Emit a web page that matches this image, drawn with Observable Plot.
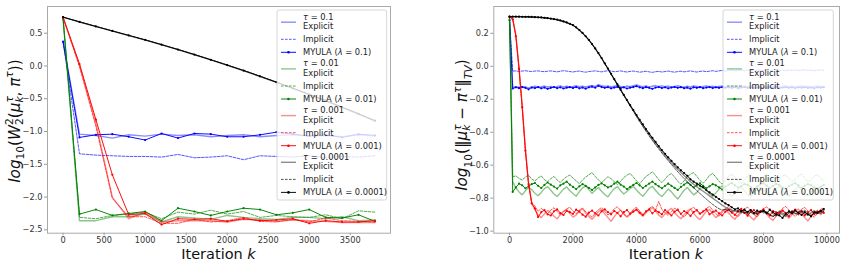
<!DOCTYPE html>
<html><head><meta charset="utf-8">
<script src="https://cdn.jsdelivr.net/npm/d3@7"></script>
<script src="https://cdn.jsdelivr.net/npm/@observablehq/plot@0.6"></script>
<style>
body{margin:0;background:#fff;}
#fig{position:relative;width:844px;height:262px;font-family:"DejaVu Sans",sans-serif;}
#fig > div{position:absolute;top:0;}
#w2{left:0;} #tv{left:420px;}
svg{overflow:visible;}
</style></head><body>
<div id="fig"><div id="w2"></div><div id="tv"></div></div>
<script>
// Step sizes and colours for each tau / lambda
const taus = ["0.1", "0.01", "0.001", "0.0001"];
const colors = ["blue", "green", "red", "black"];

// ---------- Wasserstein panel (every 200 iterations) ----------
const w2Iter = [0,200,400,600,800,1000,1200,1400,1600,1800,2000,2200,2400,2600,2800,3000,3200,3400,3600,3800];
const w2XTicks = [0,500,1000,1500,2000,2500,3000,3500];
const w2YTicks = [0.5,0,-0.5,-1,-1.5,-2,-2.5];

const w2Exp1 = [0.37,-1.04,-1.06,-1.10,-1.05,-1.07,-1.04,-1.06,-1.05,-1.08,-1.06,-1.05,-1.08,-1.06,-1.05,-1.07,-1.06,-1.08,-1.05,-1.07];
const w2Imp1 = [0.37,-1.34,-1.36,-1.37,-1.38,-1.38,-1.39,-1.35,-1.40,-1.39,-1.37,-1.43,-1.37,-1.38,-1.39,-1.37,-1.40,-1.38,-1.39,-1.37];
const w2My1  = [0.37,-1.09,-1.05,-1.04,-1.08,-1.13,-1.03,-1.10,-1.03,-1.04,-1.08,-1.08,-1.05,-1.01,-1.04,-1.07,-1.05,-1.09,-1.04,-1.06];

const w2Exp2 = [0.72,-2.36,-2.36,-2.30,-2.30,-2.26,-2.38,-2.30,-2.32,-2.34,-2.28,-2.31,-2.33,-2.34,-2.31,-2.31,-2.33,-2.30,-2.36,-2.35];
const w2Imp2 = [0.72,-2.31,-2.33,-2.28,-2.26,-2.23,-2.33,-2.23,-2.26,-2.20,-2.26,-2.22,-2.31,-2.28,-2.30,-2.31,-2.27,-2.33,-2.21,-2.23];
const w2My2  = [0.72,-2.26,-2.19,-2.28,-2.25,-2.22,-2.36,-2.17,-2.22,-2.28,-2.22,-2.17,-2.19,-2.27,-2.24,-2.19,-2.31,-2.32,-2.27,-2.37];

const w2Exp3 = [0.74,0.01,-0.88,-2.00,-2.33,-2.23,-2.38,-2.36,-2.36,-2.36,-2.38,-2.34,-2.35,-2.37,-2.35,-2.36,-2.37,-2.39,-2.39,-2.39];
const w2Imp3 = [0.74,-0.01,-0.92,-2.02,-2.30,-2.30,-2.40,-2.40,-2.34,-2.38,-2.36,-2.31,-2.37,-2.38,-2.34,-2.38,-2.32,-2.36,-2.37,-2.38];
const w2My3  = [0.74,0.03,-0.82,-1.66,-2.27,-2.25,-2.42,-2.33,-2.34,-2.33,-2.37,-2.33,-2.36,-2.35,-2.33,-2.40,-2.36,-2.38,-2.38,-2.36];

const w2Exp4 = [0.745,0.670,0.600,0.532,0.463,0.395,0.322,0.248,0.171,0.092,0.010,-0.073,-0.161,-0.251,-0.343,-0.438,-0.534,-0.634,-0.735,-0.840];
const w2Imp4 = [0.745,0.674,0.605,0.536,0.468,0.400,0.328,0.253,0.176,0.097,0.016,-0.067,-0.155,-0.245,-0.337,-0.432,-0.527,-0.627,-0.727,-0.830];
const w2My4  = [0.745,0.672,0.603,0.534,0.466,0.398,0.325,0.250,0.174,0.094,0.013,-0.070,-0.158,-0.248,-0.340,-0.435,-0.530,-0.630,-0.730,-0.835];

// ---------- Total variation panel (every 100 iterations) ----------
const tvIter = [
0,100,200,300,400,500,600,700,800,900,
1000,1100,1200,1300,1400,1500,1600,1700,1800,1900,
2000,2100,2200,2300,2400,2500,2600,2700,2800,2900,
3000,3100,3200,3300,3400,3500,3600,3700,3800,3900,
4000,4100,4200,4300,4400,4500,4600,4700,4800,4900,
5000,5100,5200,5300,5400,5500,5600,5700,5800,5900,
6000,6100,6200,6300,6400,6500,6600,6700,6800,6900,
7000,7100,7200,7300,7400,7500,7600,7700,7800,7900,
8000,8100,8200,8300,8400,8500,8600,8700,8800,8900,
9000,9100,9200,9300,9400,9500,9600,9700,9800,9900];
const tvXTicks = [0,2000,4000,6000,8000,10000];
const tvYTicks = [0.2,0,-0.2,-0.4,-0.6,-0.8,-1.0];

const tvExp1 = [
0.28,-0.128,-0.124,-0.127,-0.122,-0.126,-0.131,-0.125,-0.121,-0.127,
-0.124,-0.120,-0.126,-0.123,-0.128,-0.122,-0.119,-0.125,-0.121,-0.126,
-0.123,-0.118,-0.124,-0.121,-0.126,-0.120,-0.117,-0.122,-0.112,-0.118,
-0.123,-0.119,-0.125,-0.121,-0.116,-0.122,-0.126,-0.120,-0.124,-0.118,
-0.113,-0.119,-0.124,-0.120,-0.125,-0.121,-0.117,-0.123,-0.119,-0.124,
-0.120,-0.126,-0.122,-0.118,-0.124,-0.127,-0.121,-0.125,-0.120,-0.123,
-0.126,-0.122,-0.119,-0.124,-0.121,-0.126,-0.123,-0.120,-0.125,-0.121,
-0.124,-0.120,-0.126,-0.122,-0.119,-0.124,-0.121,-0.125,-0.122,-0.120,
-0.123,-0.126,-0.121,-0.124,-0.120,-0.125,-0.122,-0.119,-0.124,-0.121,
-0.125,-0.122,-0.120,-0.124,-0.121,-0.126,-0.123,-0.120,-0.124,-0.122];
const tvImp1 = [
0.28,-0.030,-0.028,-0.031,-0.029,-0.027,-0.030,-0.032,-0.029,-0.028,
-0.031,-0.033,-0.030,-0.028,-0.031,-0.034,-0.030,-0.027,-0.029,-0.032,
-0.035,-0.031,-0.029,-0.033,-0.036,-0.032,-0.030,-0.028,-0.031,-0.034,
-0.030,-0.027,-0.029,-0.033,-0.031,-0.028,-0.032,-0.035,-0.031,-0.029,
-0.032,-0.036,-0.033,-0.030,-0.034,-0.037,-0.033,-0.031,-0.035,-0.032,
-0.029,-0.033,-0.036,-0.032,-0.030,-0.034,-0.031,-0.028,-0.032,-0.035,
-0.031,-0.029,-0.033,-0.030,-0.027,-0.031,-0.028,-0.025,-0.029,-0.026,
-0.024,-0.028,-0.025,-0.023,-0.027,-0.024,-0.026,-0.029,-0.025,-0.023,
-0.026,-0.024,-0.028,-0.025,-0.022,-0.026,-0.024,-0.027,-0.023,-0.025,
-0.022,-0.026,-0.024,-0.021,-0.025,-0.023,-0.027,-0.024,-0.022,-0.025];
const tvMy1 = [
0.28,-0.135,-0.128,-0.133,-0.126,-0.131,-0.140,-0.129,-0.132,-0.127,
-0.134,-0.129,-0.137,-0.131,-0.126,-0.133,-0.128,-0.135,-0.130,-0.127,
-0.132,-0.126,-0.134,-0.129,-0.136,-0.128,-0.124,-0.130,-0.119,-0.126,
-0.131,-0.127,-0.134,-0.129,-0.125,-0.132,-0.128,-0.135,-0.130,-0.126,
-0.121,-0.128,-0.133,-0.127,-0.131,-0.137,-0.129,-0.126,-0.132,-0.128,
-0.134,-0.129,-0.126,-0.131,-0.127,-0.133,-0.130,-0.136,-0.128,-0.131,
-0.127,-0.133,-0.129,-0.126,-0.132,-0.128,-0.131,-0.127,-0.130,-0.128,
-0.131,-0.127,-0.133,-0.129,-0.126,-0.131,-0.128,-0.132,-0.129,-0.127,
-0.130,-0.133,-0.128,-0.131,-0.127,-0.132,-0.129,-0.126,-0.131,-0.128,
-0.132,-0.128,-0.130,-0.127,-0.131,-0.129,-0.133,-0.128,-0.130,-0.127];

const tvExp2 = [
0.30,-0.700,-0.738,-0.762,-0.780,-0.755,-0.735,-0.748,-0.770,-0.785,
-0.765,-0.742,-0.730,-0.752,-0.775,-0.790,-0.768,-0.745,-0.732,-0.755,
-0.772,-0.788,-0.760,-0.738,-0.725,-0.748,-0.770,-0.752,-0.735,-0.758,
-0.778,-0.792,-0.765,-0.742,-0.730,-0.755,-0.775,-0.760,-0.742,-0.728,
-0.750,-0.772,-0.788,-0.765,-0.740,-0.728,-0.752,-0.775,-0.790,-0.768,
-0.745,-0.762,-0.785,-0.805,-0.778,-0.752,-0.735,-0.758,-0.780,-0.765,
-0.742,-0.728,-0.750,-0.772,-0.790,-0.768,-0.745,-0.725,-0.748,-0.770,
-0.790,-0.772,-0.748,-0.732,-0.755,-0.778,-0.792,-0.766,-0.744,-0.730,
-0.752,-0.774,-0.789,-0.767,-0.743,-0.729,-0.751,-0.776,-0.790,-0.765,
-0.746,-0.731,-0.754,-0.777,-0.788,-0.764,-0.742,-0.733,-0.756,-0.775];
const tvImp2 = [
0.30,-0.670,-0.665,-0.680,-0.690,-0.672,-0.660,-0.685,-0.695,-0.678,
-0.665,-0.688,-0.700,-0.682,-0.668,-0.690,-0.705,-0.685,-0.670,-0.660,
-0.678,-0.695,-0.712,-0.690,-0.672,-0.658,-0.645,-0.668,-0.690,-0.705,
-0.688,-0.670,-0.682,-0.700,-0.718,-0.698,-0.675,-0.660,-0.650,-0.672,
-0.695,-0.712,-0.690,-0.668,-0.655,-0.640,-0.662,-0.688,-0.705,-0.685,
-0.662,-0.650,-0.672,-0.698,-0.715,-0.695,-0.670,-0.655,-0.645,-0.668,
-0.692,-0.710,-0.688,-0.662,-0.650,-0.672,-0.698,-0.715,-0.690,-0.668,
-0.652,-0.675,-0.700,-0.712,-0.688,-0.665,-0.655,-0.678,-0.702,-0.690,
-0.668,-0.655,-0.676,-0.698,-0.710,-0.686,-0.664,-0.658,-0.680,-0.700,
-0.688,-0.666,-0.654,-0.677,-0.701,-0.689,-0.667,-0.656,-0.679,-0.695];
const tvMy2 = [
0.30,-0.762,-0.735,-0.712,-0.722,-0.740,-0.728,-0.715,-0.708,-0.725,
-0.738,-0.720,-0.705,-0.718,-0.730,-0.742,-0.722,-0.712,-0.700,-0.718,
-0.732,-0.745,-0.728,-0.715,-0.725,-0.738,-0.750,-0.735,-0.720,-0.710,
-0.722,-0.735,-0.728,-0.712,-0.700,-0.718,-0.730,-0.745,-0.732,-0.720,
-0.708,-0.722,-0.738,-0.725,-0.712,-0.700,-0.715,-0.728,-0.740,-0.725,
-0.712,-0.725,-0.738,-0.750,-0.732,-0.718,-0.705,-0.720,-0.735,-0.722,
-0.710,-0.725,-0.740,-0.728,-0.715,-0.722,-0.735,-0.748,-0.730,-0.718,
-0.708,-0.722,-0.736,-0.727,-0.714,-0.720,-0.733,-0.745,-0.729,-0.716,
-0.710,-0.724,-0.738,-0.726,-0.713,-0.721,-0.734,-0.744,-0.728,-0.717,
-0.709,-0.723,-0.737,-0.725,-0.715,-0.722,-0.735,-0.743,-0.730,-0.719];

const tvExp3 = [
0.301,0.290,0.190,-0.010,-0.240,-0.500,-0.710,-0.830,-0.870,-0.900,
-0.918,-0.895,-0.875,-0.888,-0.910,-0.925,-0.900,-0.880,-0.868,-0.892,
-0.915,-0.902,-0.878,-0.865,-0.890,-0.912,-0.928,-0.905,-0.882,-0.870,
-0.895,-0.918,-0.940,-0.912,-0.888,-0.872,-0.895,-0.915,-0.900,-0.878,
-0.868,-0.892,-0.910,-0.888,-0.870,-0.858,-0.880,-0.902,-0.918,-0.895,
-0.875,-0.862,-0.888,-0.908,-0.925,-0.900,-0.878,-0.865,-0.892,-0.915,
-0.930,-0.905,-0.880,-0.868,-0.895,-0.918,-0.900,-0.878,-0.865,-0.890,
-0.912,-0.928,-0.902,-0.880,-0.868,-0.894,-0.916,-0.932,-0.905,-0.882,
-0.870,-0.896,-0.920,-0.935,-0.908,-0.884,-0.872,-0.898,-0.922,-0.900,
-0.878,-0.866,-0.892,-0.918,-0.938,-0.910,-0.886,-0.874,-0.900,-0.880];
const tvImp3 = [
0.301,0.288,0.186,-0.014,-0.245,-0.505,-0.712,-0.828,-0.848,-0.880,
-0.862,-0.878,-0.895,-0.872,-0.858,-0.880,-0.902,-0.885,-0.865,-0.855,
-0.878,-0.895,-0.872,-0.860,-0.882,-0.900,-0.915,-0.890,-0.870,-0.858,
-0.880,-0.902,-0.888,-0.865,-0.852,-0.875,-0.898,-0.912,-0.890,-0.868,
-0.855,-0.878,-0.900,-0.885,-0.862,-0.850,-0.872,-0.820,-0.868,-0.890,
-0.905,-0.882,-0.860,-0.875,-0.898,-0.915,-0.892,-0.868,-0.855,-0.878,
-0.900,-0.885,-0.862,-0.850,-0.872,-0.895,-0.910,-0.888,-0.865,-0.852,
-0.875,-0.898,-0.912,-0.890,-0.866,-0.854,-0.876,-0.900,-0.914,-0.888,
-0.864,-0.852,-0.874,-0.896,-0.910,-0.886,-0.862,-0.850,-0.872,-0.894,
-0.912,-0.890,-0.866,-0.856,-0.878,-0.900,-0.916,-0.892,-0.868,-0.858];
const tvMy3 = [
0.301,0.285,0.182,-0.016,-0.248,-0.512,-0.715,-0.832,-0.862,-0.915,
-0.885,-0.872,-0.898,-0.905,-0.880,-0.868,-0.890,-0.902,-0.878,-0.885,
-0.895,-0.870,-0.882,-0.900,-0.912,-0.888,-0.875,-0.892,-0.905,-0.880,
-0.868,-0.885,-0.898,-0.878,-0.890,-0.910,-0.885,-0.872,-0.895,-0.882,
-0.870,-0.888,-0.902,-0.880,-0.868,-0.892,-0.875,-0.885,-0.898,-0.872,
-0.888,-0.905,-0.882,-0.870,-0.895,-0.878,-0.890,-0.908,-0.885,-0.872,
-0.893,-0.880,-0.868,-0.898,-0.885,-0.875,-0.892,-0.905,-0.882,-0.870,
-0.888,-0.902,-0.878,-0.865,-0.890,-0.906,-0.884,-0.872,-0.895,-0.880,
-0.868,-0.892,-0.905,-0.878,-0.886,-0.898,-0.875,-0.889,-0.910,-0.882,
-0.870,-0.895,-0.880,-0.905,-0.885,-0.872,-0.898,-0.884,-0.876,-0.890];

const tvExp4 = [
0.301,0.301,0.301,0.301,0.301,0.300,0.300,0.299,0.298,0.297,
0.296,0.294,0.292,0.289,0.286,0.282,0.277,0.272,0.265,0.257,
0.249,0.235,0.219,0.201,0.181,0.159,0.134,0.107,0.079,0.049,
0.017,-0.015,-0.047,-0.079,-0.111,-0.143,-0.175,-0.206,-0.237,-0.268,
-0.298,-0.328,-0.357,-0.386,-0.414,-0.441,-0.467,-0.492,-0.516,-0.540,
-0.563,-0.585,-0.606,-0.626,-0.645,-0.663,-0.680,-0.700,-0.716,-0.731,
-0.745,-0.758,-0.772,-0.786,-0.800,-0.814,-0.828,-0.842,-0.855,-0.866,
-0.872,-0.880,-0.876,-0.889,-0.882,-0.895,-0.884,-0.898,-0.888,-0.878,
-0.890,-0.882,-0.898,-0.910,-0.892,-0.885,-0.900,-0.912,-0.890,-0.882,
-0.896,-0.884,-0.875,-0.892,-0.904,-0.888,-0.876,-0.894,-0.886,-0.872];
const tvImp4 = [
0.301,0.301,0.301,0.300,0.300,0.300,0.299,0.299,0.298,0.296,
0.295,0.293,0.291,0.288,0.285,0.281,0.276,0.270,0.264,0.256,
0.248,0.234,0.218,0.200,0.180,0.158,0.133,0.106,0.078,0.048,
0.016,-0.016,-0.048,-0.080,-0.112,-0.145,-0.177,-0.209,-0.241,-0.273,
-0.305,-0.336,-0.366,-0.395,-0.423,-0.450,-0.476,-0.501,-0.526,-0.550,
-0.573,-0.596,-0.618,-0.640,-0.661,-0.681,-0.700,-0.718,-0.736,-0.754,
-0.772,-0.789,-0.806,-0.822,-0.838,-0.852,-0.864,-0.872,-0.868,-0.876,
-0.882,-0.872,-0.886,-0.878,-0.892,-0.880,-0.870,-0.888,-0.898,-0.884,
-0.872,-0.886,-0.899,-0.915,-0.894,-0.878,-0.890,-0.905,-0.888,-0.876,
-0.890,-0.902,-0.884,-0.872,-0.894,-0.906,-0.889,-0.878,-0.892,-0.880];
const tvMy4 = [
0.301,0.301,0.301,0.301,0.300,0.300,0.300,0.299,0.298,0.297,
0.296,0.294,0.292,0.289,0.286,0.283,0.278,0.272,0.266,0.258,
0.250,0.236,0.220,0.202,0.182,0.160,0.135,0.108,0.080,0.050,
0.018,-0.014,-0.046,-0.078,-0.110,-0.142,-0.174,-0.205,-0.236,-0.266,
-0.296,-0.325,-0.353,-0.381,-0.408,-0.434,-0.459,-0.484,-0.508,-0.531,
-0.553,-0.574,-0.594,-0.613,-0.631,-0.648,-0.664,-0.686,-0.700,-0.712,
-0.724,-0.735,-0.752,-0.765,-0.778,-0.792,-0.805,-0.818,-0.832,-0.842,
-0.855,-0.868,-0.862,-0.878,-0.870,-0.885,-0.872,-0.890,-0.876,-0.884,
-0.878,-0.892,-0.870,-0.886,-0.900,-0.905,-0.920,-0.895,-0.880,-0.892,
-0.875,-0.888,-0.902,-0.885,-0.898,-0.910,-0.886,-0.890,-0.878,-0.866];

// ---------- drawing ----------
const lineStyles = {
  Explicit: {w: 1.4, o: 0.45, dash: null},
  Implicit: {w: 0.9, o: 0.75, dash: "2.6,1.4"},
  MYULA:    {w: 1.0, o: 0.95, dash: null}
};
const tickSize = "8.2px";
const labelSize = 14.5;

function seriesList(exp, imp, my) {
  const out = [];
  colors.forEach((c, j) => {
    out.push({color: c, method: "Explicit", values: exp[j]});
    out.push({color: c, method: "Implicit", values: imp[j]});
    out.push({color: c, method: "MYULA", values: my[j]});
  });
  return out;
}

function drawPanel(el, cfg) {
  const marks = [];
  cfg.series.forEach(s => {
    const data = cfg.iter.map((x, i) => ({x, y: s.values[i]}));
    const st = lineStyles[s.method];
    marks.push(Plot.line(data, {x: "x", y: "y", stroke: s.color, strokeWidth: st.w,
      strokeOpacity: st.o, strokeDasharray: st.dash}));
    if (s.method === "MYULA") marks.push(Plot.dot(data, {x: "x", y: "y", r: 1.1, fill: s.color, stroke: "none"}));
  });
  const chart = Plot.plot({
    width: cfg.width, height: 262,
    marginLeft: cfg.ml, marginRight: cfg.mr, marginTop: 6, marginBottom: 29.3,
    style: {fontFamily: "DejaVu Sans", fontSize: tickSize, color: "#333", background: "transparent"},
    x: {domain: cfg.xDomain},
    y: {domain: cfg.yDomain},
    marks: [
      ...marks,
      Plot.axisX({ticks: cfg.xTicks, tickFormat: d => String(d), tickSize: 2.5, tickPadding: 1.5, label: null, stroke: "#999"}),
      Plot.axisY({ticks: cfg.yTicks, tickFormat: d3.format(".1f"), tickSize: 3, tickPadding: 2, label: null, stroke: "#999"}),
      Plot.frame({stroke: "#aaa"})
    ]
  });
  el.appendChild(chart);
  return d3.select(chart);
}

// math-style text built from tspans (italic symbols, sub/superscripts)
function mathText(parent, tokens, size) {
  const t = parent.append("text").attr("font-size", size).attr("fill", "#111")
    .attr("font-family", "DejaVu Sans").attr("text-anchor", "middle");
  let cur = 0, lastW = 0;
  tokens.forEach(tok => {
    const fs = tok.s ? size * 0.7 : size;
    const off = tok.s === "sup" ? -0.42 * size : tok.s === "sub" ? (tok.low ? 0.3 : 0.2) * size : 0;
    const ts = t.append("tspan").attr("font-size", fs).attr("dy", off - cur).text(tok.t);
    if (tok.i) ts.attr("font-style", "italic");
    if (tok.back) ts.attr("dx", -lastW);
    cur = off;
    lastW = ts.node().getComputedTextLength();
  });
  return t;
}

function axisLabels(svg, cx, yLabelX, yLabelY, tokens) {
  const xl = svg.append("text").attr("x", cx).attr("y", 259).attr("text-anchor", "middle")
    .attr("font-size", labelSize).attr("font-family", "DejaVu Sans").attr("fill", "#111");
  xl.append("tspan").text("Iteration ");
  xl.append("tspan").attr("font-style", "italic").text("k");
  const g = svg.append("g").attr("transform", `translate(${yLabelX},${yLabelY}) rotate(-90)`);
  mathText(g, tokens, 15.2).attr("y", 5.5);
}

function drawLegend(svg, x0, y0, w, h) {
  const fs = 8.3;
  const g = svg.append("g").attr("font-family", "DejaVu Sans").attr("font-size", fs)
    .attr("fill", "#222").attr("text-anchor", "start");
  g.append("rect").attr("x", x0).attr("y", y0).attr("width", w).attr("height", h).attr("rx", 2)
    .attr("fill", "white").attr("fill-opacity", 0.8).attr("stroke", "#ccc").attr("stroke-width", 0.8);
  const lx0 = x0 + 4, lx1 = x0 + 19, tx = x0 + 26;
  taus.forEach((tau, j) => {
    const c = colors[j];
    const base = y0 + 6.7 + 46.7 * j;
    const t1 = g.append("text").attr("x", tx).attr("y", base).attr("dy", "0.35em");
    t1.append("tspan").attr("font-style", "italic").text("τ");
    t1.append("tspan").text(" = " + tau);
    g.append("text").attr("x", tx).attr("y", base + 9.6).attr("dy", "0.35em").text("Explicit");
    g.append("line").attr("x1", lx0).attr("x2", lx1).attr("y1", base + 5.5).attr("y2", base + 5.5)
      .attr("stroke", c).attr("stroke-width", lineStyles.Explicit.w).attr("stroke-opacity", lineStyles.Explicit.o);
    g.append("text").attr("x", tx).attr("y", base + 22.6).attr("dy", "0.35em").text("Implicit");
    g.append("line").attr("x1", lx0).attr("x2", lx1).attr("y1", base + 22.6).attr("y2", base + 22.6)
      .attr("stroke", c).attr("stroke-width", lineStyles.Implicit.w).attr("stroke-opacity", lineStyles.Implicit.o)
      .attr("stroke-dasharray", lineStyles.Implicit.dash);
    const t3 = g.append("text").attr("x", tx).attr("y", base + 35.6).attr("dy", "0.35em");
    t3.append("tspan").text("MYULA (");
    t3.append("tspan").attr("font-style", "italic").text("λ");
    t3.append("tspan").text(" = " + tau + ")");
    g.append("line").attr("x1", lx0).attr("x2", lx1).attr("y1", base + 35.6).attr("y2", base + 35.6)
      .attr("stroke", c).attr("stroke-width", 1).attr("stroke-opacity", lineStyles.MYULA.o);
    g.append("circle").attr("cx", (lx0 + lx1) / 2).attr("cy", base + 35.6).attr("r", 1.3).attr("fill", c);
  });
}

// left: Wasserstein distance
const w2svg = drawPanel(document.getElementById("w2"), {
  width: 420, ml: 47, mr: 30,
  iter: w2Iter, xDomain: [-190, 3990], yDomain: [-2.551, 0.907],
  xTicks: w2XTicks, yTicks: w2YTicks,
  series: seriesList([w2Exp1, w2Exp2, w2Exp3, w2Exp4], [w2Imp1, w2Imp2, w2Imp3, w2Imp4], [w2My1, w2My2, w2My3, w2My4])
});
axisLabels(w2svg, 218.5, 14, 121, [
  {t: "log", i: true}, {t: "10", s: "sub", low: true}, {t: "("}, {t: "W", i: true},
  {t: "2", s: "sup"}, {t: "2", s: "sub", back: true}, {t: "("}, {t: "μ", i: true},
  {t: "τ", s: "sup", i: true}, {t: "k", s: "sub", i: true, back: true}, {t: ", "}, {t: "π", i: true},
  {t: "τ", s: "sup", i: true}, {t: "))"}
]);
drawLegend(w2svg, 277, 10, 109.7, 190);

// right: total variation distance
const tvsvg = drawPanel(document.getElementById("tv"), {
  width: 424, ml: 73.3, mr: 5,
  iter: tvIter, xDomain: [-495, 10395], yDomain: [-1.0125, 0.3625],
  xTicks: tvXTicks, yTicks: tvYTicks,
  series: seriesList([tvExp1, tvExp2, tvExp3, tvExp4], [tvImp1, tvImp2, tvImp3, tvImp4], [tvMy1, tvMy2, tvMy3, tvMy4])
});
axisLabels(tvsvg, 246, 41.7, 125, [
  {t: "log", i: true}, {t: "10", s: "sub", low: true}, {t: "(‖"}, {t: "μ", i: true},
  {t: "τ", s: "sup", i: true}, {t: "k", s: "sub", i: true, back: true}, {t: " − "}, {t: "π", i: true},
  {t: "τ", s: "sup", i: true}, {t: "‖"}, {t: "TV", s: "sub", i: true, low: true}, {t: ")"}
]);
drawLegend(tvsvg, 303, 10, 110.3, 190);
</script>
</body></html>
